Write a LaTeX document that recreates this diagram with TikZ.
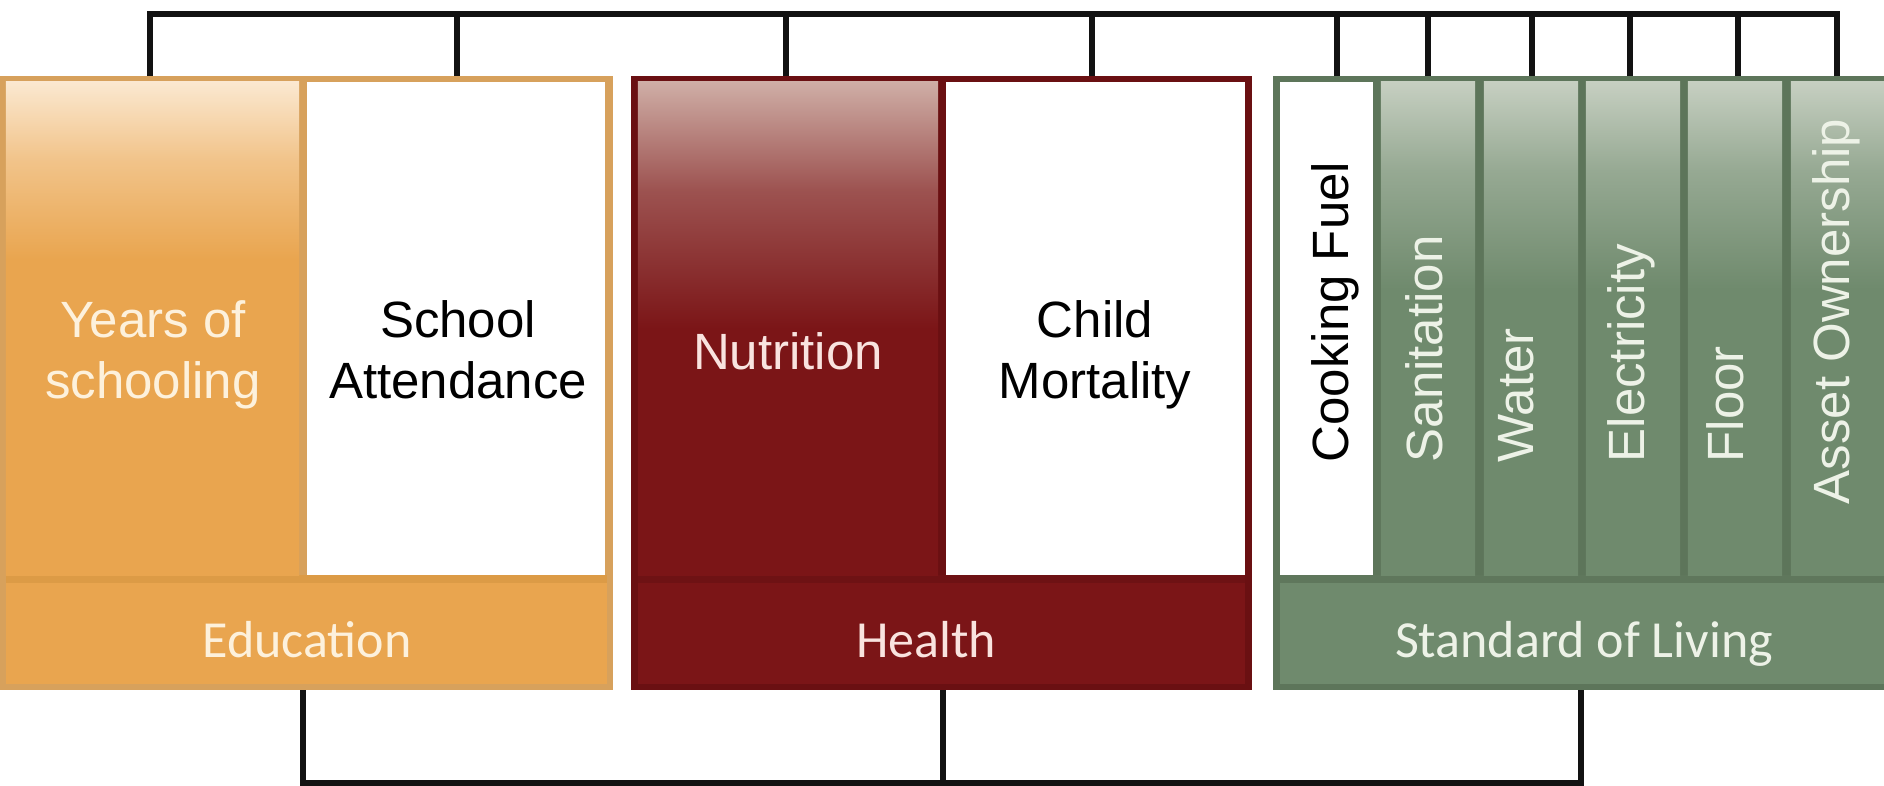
\documentclass[tikz,border=0pt]{standalone}
\usepackage{fontspec}
\setmainfont{Liberation Sans}
\newfontfamily\catfnt{Carlito}
\definecolor{eduB}{HTML}{D7A15C}
\definecolor{eduF}{HTML}{E9A54F}
\definecolor{eduL}{HTML}{DC9B46}
\definecolor{eduTop}{HTML}{FBE8D0}
\definecolor{eduTxt}{HTML}{FDF1DC}
\definecolor{heaB}{HTML}{6A1012}
\definecolor{heaF}{HTML}{7B1517}
\definecolor{heaL}{HTML}{6E1214}
\definecolor{heaTop}{HTML}{CFAEA6}
\definecolor{heaTxt}{HTML}{F9E3DF}
\definecolor{solB}{HTML}{5D755A}
\definecolor{solF}{HTML}{6F8A6D}
\definecolor{solL}{HTML}{5F775C}
\definecolor{solTop}{HTML}{C6CFC1}
\definecolor{solTxt}{HTML}{EDF2E7}
\pgfdeclareverticalshading{eduG}{100bp}{color(0bp)=(eduF); color(57bp)=(eduF); color(67bp)=(eduF!55!eduTop); color(75bp)=(eduTop); color(100bp)=(eduTop)}
\pgfdeclareverticalshading{heaG}{100bp}{color(0bp)=(heaF); color(50bp)=(heaF); color(64bp)=(heaF!60!heaTop); color(75bp)=(heaTop); color(100bp)=(heaTop)}
\pgfdeclareverticalshading{solG}{100bp}{color(0bp)=(solF); color(54bp)=(solF); color(66bp)=(solF!55!solTop); color(75bp)=(solTop); color(100bp)=(solTop)}
\begin{document}
\begin{tikzpicture}[x=0.01cm, y=-0.01cm,
  mblk/.style={rectangle, inner sep=0pt, outer sep=0pt},
  mgrad/.style={mblk, shading=#1},
  mband/.style 2 args={mblk, fill=#2, path picture={\fill[#1] (path picture bounding box.north west) rectangle ([yshift=-0.08cm]path picture bounding box.north east);}},
  mwhite/.style={mblk, fill=white},
  mlbl/.style={inner sep=0pt, font=\fontsize{14.5pt}{17.4pt}\selectfont, anchor=base},
  mvlbl/.style={inner sep=0pt, font=\fontsize{14.5pt}{17.4pt}\selectfont, rotate=90, anchor=base west},
  mcat/.style={inner sep=0pt, font=\catfnt\fontsize{14.8pt}{17pt}\selectfont, anchor=base},
  mcon/.style={line width=1.45pt, draw=black!93}
]
\clip (0,0) rectangle (1884,786);
\fill[white] (0,0) rectangle (1884,786);

% group frames
\node[mblk, fill=eduB, minimum width=6.13cm, minimum height=6.14cm] (edu) at (306.5,383) {};
\node[mblk, fill=heaB, minimum width=6.21cm, minimum height=6.14cm] (hea) at (941.5,383) {};
\node[mblk, fill=solB, minimum width=7.17cm, minimum height=6.14cm] (sol) at (1631.5,383) {};

% bands
\node[mband={eduL}{eduF}, minimum width=6.01cm, minimum height=1.09cm] (eband) at (306.5,629.5) {};
\node[mband={heaL}{heaF}, minimum width=6.07cm, minimum height=1.09cm] (hband) at (941.5,629.5) {};
\node[mband={solL}{solF}, minimum width=7.03cm, minimum height=1.09cm] (sband) at (1631.5,629.5) {};

% education columns
\node[mgrad=eduG, minimum width=2.93cm, minimum height=4.93cm] (yrs) at (152.5,328.5) {};
\node[mwhite, minimum width=2.98cm, minimum height=4.93cm] (sch) at (456,328.5) {};
% health columns
\node[mgrad=heaG, minimum width=3.00cm, minimum height=4.93cm] (nut) at (788,328.5) {};
\node[mwhite, minimum width=2.99cm, minimum height=4.93cm] (chi) at (1095.5,328.5) {};
% standard of living columns
\node[mwhite, minimum width=0.93cm, minimum height=4.93cm] (cook) at (1326.5,328.5) {};
\node[mgrad=solG, minimum width=0.94cm, minimum height=4.93cm] (san) at (1428,328.5) {};
\node[mgrad=solG, minimum width=0.94cm, minimum height=4.93cm] (wat) at (1531,328.5) {};
\node[mgrad=solG, minimum width=0.94cm, minimum height=4.93cm] (ele) at (1633,328.5) {};
\node[mgrad=solG, minimum width=0.94cm, minimum height=4.93cm] (flo) at (1735,328.5) {};
\node[mgrad=solG, minimum width=0.93cm, minimum height=4.93cm] (ass) at (1837.5,328.5) {};

% labels
\node[mlbl, text=eduTxt] (lyrs) at (153,399) {\begin{tabular}[b]{@{}c@{}}Years of\\schooling\end{tabular}};
\node[mlbl, text=black] (lsch) at (458,399) {\begin{tabular}[b]{@{}c@{}}School\\Attendance\end{tabular}};
\node[mlbl, text=heaTxt] (lnut) at (788,370) {Nutrition};
\node[mlbl, text=black] (lchi) at (1095,399) {\begin{tabular}[b]{@{}c@{}}Child\\Mortality\end{tabular}};

\node[mvlbl, text=black] (lcook) at (1348,463) {Cooking Fuel};
\node[mvlbl, text=solTxt] (lsan) at (1442,463) {Sanitation};
\node[mvlbl, text=solTxt] (lwat) at (1533,463) {Water};
\node[mvlbl, text=solTxt] (lele) at (1644,463) {Electricity};
\node[mvlbl, text=solTxt] (lflo) at (1743,463) {Floor};
\node[mvlbl, text=solTxt] (lass) at (1849,505) {Asset Ownership};

\node[mcat, text=eduTxt] (ledu) at (307,658) {Education};
\node[mcat, text=heaTxt] (lhea) at (926,658) {Health};
\node[mcat, text=solTxt] (lsol) at (1584,658) {Standard of Living};

% top connectors
\coordinate (t1) at (150,14);
\coordinate (t2) at (457,14);
\coordinate (t3) at (786,14);
\coordinate (t4) at (1092,14);
\coordinate (t5) at (1337,14);
\coordinate (t6) at (1428,14);
\coordinate (t7) at (1532,14);
\coordinate (t8) at (1630,14);
\coordinate (t9) at (1738,14);
\coordinate (t10) at (1837,14);
\draw[mcon] (edu.north -| t1) -- (t1) -- (t10) -- (sol.north -| t10);
\draw[mcon] (t2) -- (edu.north -| t2);
\draw[mcon] (t3) -- (hea.north -| t3);
\draw[mcon] (t4) -- (hea.north -| t4);
\foreach \t in {t5,t6,t7,t8,t9} \draw[mcon] (\t) -- (sol.north -| \t);

% bottom connectors
\coordinate (b1) at (303,783);
\coordinate (b2) at (943,783);
\coordinate (b3) at (1581,783);
\draw[mcon] (edu.south -| b1) -- (b1) -- (b3) -- (sol.south -| b3);
\draw[mcon] (hea.south -| b2) -- (b2);
\end{tikzpicture}
\end{document}
